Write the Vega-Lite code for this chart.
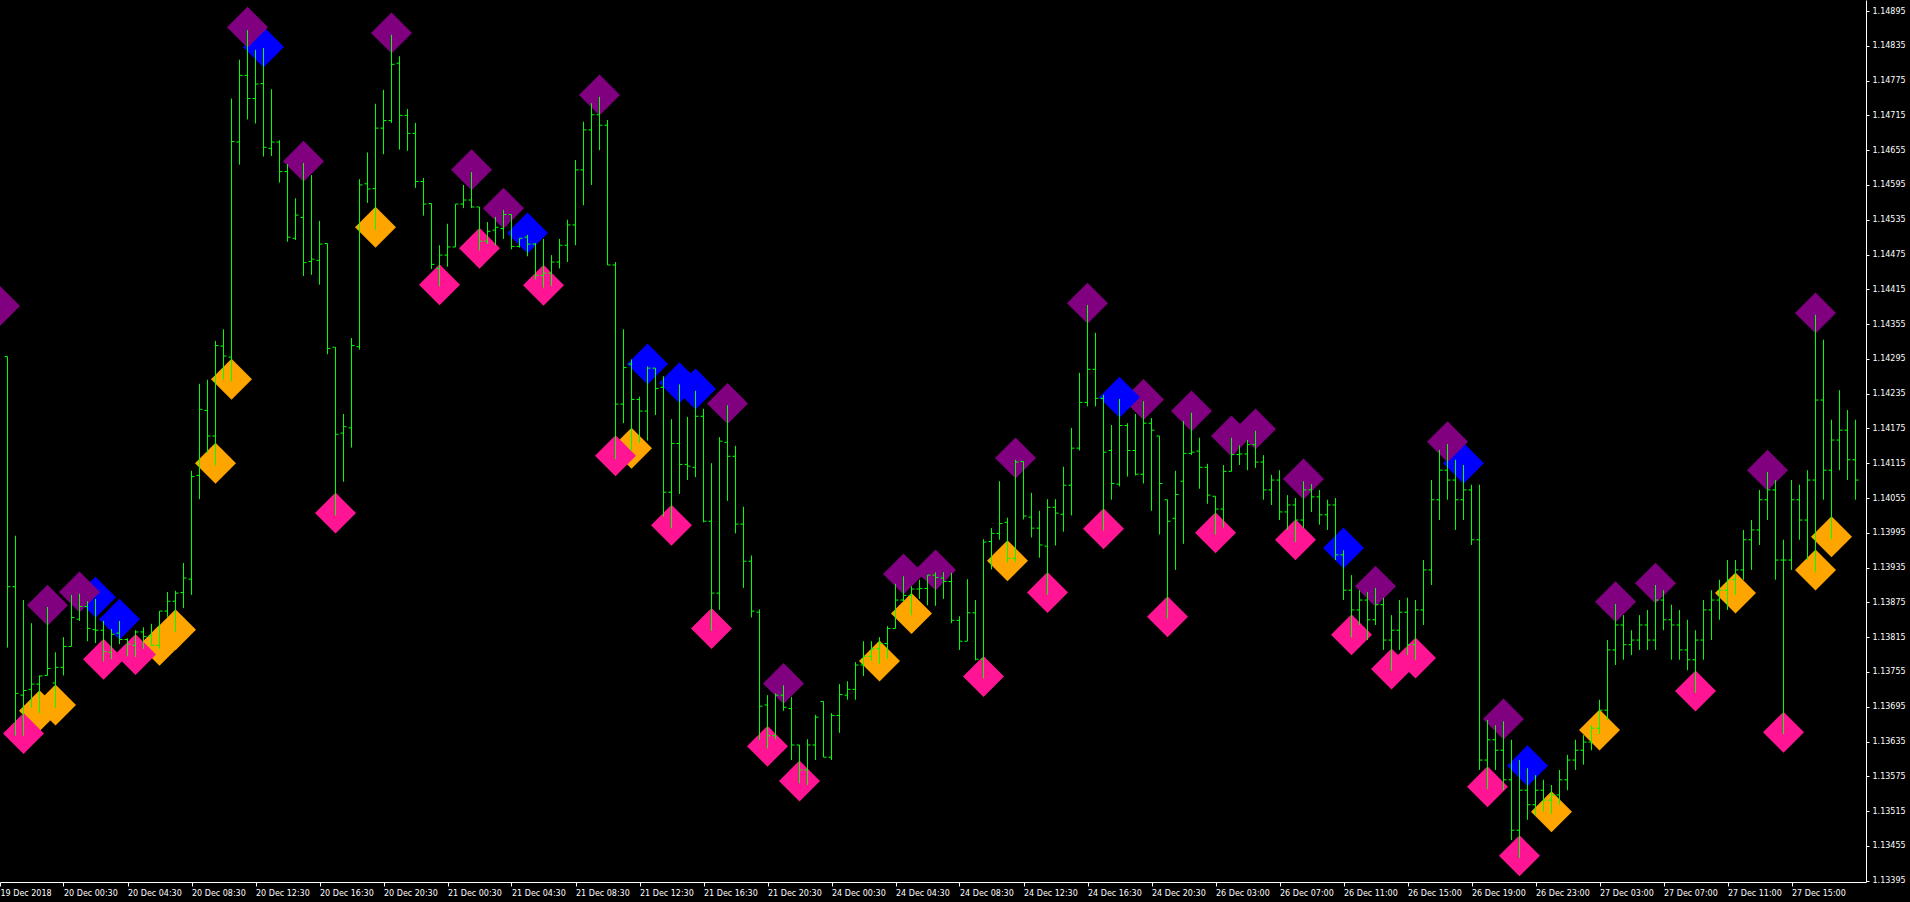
{
  "$schema": "https://vega.github.io/schema/vega-lite/v6.json",
  "width": 1866,
  "height": 882,
  "autosize": {"type": "none"},
  "padding": {"left": 0, "top": 0, "right": 44, "bottom": 20},
  "background": "#000000",
  "config": {"view": {"stroke": null}, "font": "DejaVu Sans"},
  "datasets": {
    "bars": [
      {"k":0,"o":1.14299,"h":1.14299,"l":1.13797,"c":1.13902},
      {"k":1,"o":1.13902,"h":1.13990,"l":1.13645,"c":1.13718},
      {"k":2,"o":1.13715,"h":1.13879,"l":1.13645,"c":1.13723},
      {"k":3,"o":1.13725,"h":1.13839,"l":1.13693,"c":1.13734},
      {"k":4,"o":1.13734,"h":1.13749,"l":1.13684,"c":1.13748},
      {"k":5,"o":1.13749,"h":1.13867,"l":1.13749,"c":1.13761},
      {"k":6,"o":1.13736,"h":1.13789,"l":1.13693,"c":1.13763},
      {"k":7,"o":1.13763,"h":1.13815,"l":1.13749,"c":1.13799},
      {"k":8,"o":1.13799,"h":1.13888,"l":1.13799,"c":1.13849},
      {"k":9,"o":1.13846,"h":1.13890,"l":1.13843,"c":1.13868},
      {"k":10,"o":1.13868,"h":1.13877,"l":1.13808,"c":1.13830},
      {"k":11,"o":1.13828,"h":1.13881,"l":1.13805,"c":1.13827},
      {"k":12,"o":1.13827,"h":1.13843,"l":1.13773,"c":1.13790},
      {"k":13,"o":1.13789,"h":1.13829,"l":1.13777,"c":1.13820},
      {"k":14,"o":1.13822,"h":1.13843,"l":1.13803,"c":1.13811},
      {"k":15,"o":1.13811,"h":1.13813,"l":1.13782,"c":1.13803},
      {"k":16,"o":1.13801,"h":1.13827,"l":1.13781,"c":1.13824},
      {"k":17,"o":1.13824,"h":1.13832,"l":1.13795,"c":1.13816},
      {"k":18,"o":1.13817,"h":1.13838,"l":1.13800,"c":1.13801},
      {"k":19,"o":1.13801,"h":1.13860,"l":1.13795,"c":1.13860},
      {"k":20,"o":1.13860,"h":1.13893,"l":1.13850,"c":1.13877},
      {"k":21,"o":1.13877,"h":1.13895,"l":1.13824,"c":1.13891},
      {"k":22,"o":1.13892,"h":1.13943,"l":1.13865,"c":1.13917},
      {"k":23,"o":1.13915,"h":1.14102,"l":1.13888,"c":1.14092},
      {"k":24,"o":1.14094,"h":1.14252,"l":1.14053,"c":1.14208},
      {"k":25,"o":1.14206,"h":1.14259,"l":1.14133,"c":1.14162},
      {"k":26,"o":1.14162,"h":1.14326,"l":1.14111,"c":1.14318},
      {"k":27,"o":1.14317,"h":1.14346,"l":1.14259,"c":1.14300},
      {"k":28,"o":1.14298,"h":1.14744,"l":1.14256,"c":1.14670},
      {"k":29,"o":1.14669,"h":1.14811,"l":1.14630,"c":1.14784},
      {"k":30,"o":1.14784,"h":1.14862,"l":1.14708,"c":1.14744},
      {"k":31,"o":1.14744,"h":1.14828,"l":1.14701,"c":1.14769},
      {"k":32,"o":1.14770,"h":1.14831,"l":1.14644,"c":1.14660},
      {"k":33,"o":1.14658,"h":1.14760,"l":1.14645,"c":1.14669},
      {"k":34,"o":1.14669,"h":1.14672,"l":1.14599,"c":1.14618},
      {"k":35,"o":1.14618,"h":1.14631,"l":1.14497,"c":1.14505},
      {"k":36,"o":1.14503,"h":1.14572,"l":1.14500,"c":1.14543},
      {"k":37,"o":1.14539,"h":1.14633,"l":1.14438,"c":1.14461},
      {"k":38,"o":1.14463,"h":1.14612,"l":1.14440,"c":1.14467},
      {"k":39,"o":1.14465,"h":1.14533,"l":1.14423,"c":1.14493},
      {"k":40,"o":1.14494,"h":1.14494,"l":1.14303,"c":1.14313},
      {"k":41,"o":1.14315,"h":1.14315,"l":1.14025,"c":1.14165},
      {"k":42,"o":1.14167,"h":1.14200,"l":1.14083,"c":1.14178},
      {"k":43,"o":1.14176,"h":1.14331,"l":1.14142,"c":1.14318},
      {"k":44,"o":1.14316,"h":1.14605,"l":1.14311,"c":1.14595},
      {"k":45,"o":1.14597,"h":1.14651,"l":1.14564,"c":1.14588},
      {"k":46,"o":1.14589,"h":1.14735,"l":1.14517,"c":1.14693},
      {"k":47,"o":1.14693,"h":1.14759,"l":1.14648,"c":1.14706},
      {"k":48,"o":1.14706,"h":1.14854,"l":1.14702,"c":1.14803},
      {"k":49,"o":1.14805,"h":1.14817,"l":1.14656,"c":1.14715},
      {"k":50,"o":1.14715,"h":1.14726,"l":1.14654,"c":1.14684},
      {"k":51,"o":1.14684,"h":1.14702,"l":1.14590,"c":1.14601},
      {"k":52,"o":1.14601,"h":1.14607,"l":1.14542,"c":1.14562},
      {"k":53,"o":1.14563,"h":1.14563,"l":1.14450,"c":1.14458},
      {"k":54,"o":1.14451,"h":1.14491,"l":1.14420,"c":1.14474},
      {"k":55,"o":1.14474,"h":1.14528,"l":1.14454,"c":1.14488},
      {"k":56,"o":1.14488,"h":1.14562,"l":1.14488,"c":1.14562},
      {"k":57,"o":1.14562,"h":1.14595,"l":1.14555,"c":1.14569},
      {"k":58,"o":1.14569,"h":1.14617,"l":1.14555,"c":1.14557},
      {"k":59,"o":1.14557,"h":1.14557,"l":1.14482,"c":1.14498},
      {"k":60,"o":1.14498,"h":1.14531,"l":1.14493,"c":1.14515},
      {"k":61,"o":1.14517,"h":1.14540,"l":1.14491,"c":1.14522},
      {"k":62,"o":1.14520,"h":1.14552,"l":1.14502,"c":1.14544},
      {"k":63,"o":1.14544,"h":1.14544,"l":1.14484,"c":1.14489},
      {"k":64,"o":1.14489,"h":1.14503,"l":1.14487,"c":1.14503},
      {"k":65,"o":1.14505,"h":1.14509,"l":1.14472,"c":1.14493},
      {"k":66,"o":1.14493,"h":1.14495,"l":1.14432,"c":1.14439},
      {"k":67,"o":1.14439,"h":1.14502,"l":1.14418,"c":1.14443},
      {"k":68,"o":1.14443,"h":1.14474,"l":1.14421,"c":1.14462},
      {"k":69,"o":1.14462,"h":1.14502,"l":1.14451,"c":1.14491},
      {"k":70,"o":1.14491,"h":1.14535,"l":1.14462,"c":1.14526},
      {"k":71,"o":1.14526,"h":1.14638,"l":1.14491,"c":1.14621},
      {"k":72,"o":1.14621,"h":1.14704,"l":1.14560,"c":1.14690},
      {"k":73,"o":1.14690,"h":1.14736,"l":1.14595,"c":1.14716},
      {"k":74,"o":1.14716,"h":1.14747,"l":1.14655,"c":1.14698},
      {"k":75,"o":1.14698,"h":1.14707,"l":1.14457,"c":1.14457},
      {"k":76,"o":1.14457,"h":1.14462,"l":1.14122,"c":1.14217},
      {"k":77,"o":1.14217,"h":1.14346,"l":1.14184,"c":1.14280},
      {"k":78,"o":1.14286,"h":1.14294,"l":1.14137,"c":1.14225},
      {"k":79,"o":1.14225,"h":1.14230,"l":1.14150,"c":1.14205},
      {"k":80,"o":1.14205,"h":1.14282,"l":1.14154,"c":1.14279},
      {"k":81,"o":1.14279,"h":1.14279,"l":1.14198,"c":1.14244},
      {"k":82,"o":1.14246,"h":1.14265,"l":1.14023,"c":1.14065},
      {"k":83,"o":1.14065,"h":1.14191,"l":1.14003,"c":1.14149},
      {"k":84,"o":1.14149,"h":1.14251,"l":1.14062,"c":1.14113},
      {"k":85,"o":1.14113,"h":1.14195,"l":1.14086,"c":1.14110},
      {"k":86,"o":1.14108,"h":1.14240,"l":1.14091,"c":1.14196},
      {"k":87,"o":1.14196,"h":1.14209,"l":1.14013,"c":1.14015},
      {"k":88,"o":1.14015,"h":1.14115,"l":1.13826,"c":1.13891},
      {"k":89,"o":1.13891,"h":1.14160,"l":1.13862,"c":1.14153},
      {"k":90,"o":1.14151,"h":1.14215,"l":1.14050,"c":1.14127},
      {"k":91,"o":1.14127,"h":1.14145,"l":1.13994,"c":1.14010},
      {"k":92,"o":1.14010,"h":1.14040,"l":1.13900,"c":1.13946},
      {"k":93,"o":1.13946,"h":1.13956,"l":1.13849,"c":1.13860},
      {"k":94,"o":1.13858,"h":1.13863,"l":1.13638,"c":1.13696},
      {"k":95,"o":1.13698,"h":1.13715,"l":1.13623,"c":1.13645},
      {"k":96,"o":1.13645,"h":1.13718,"l":1.13639,"c":1.13715},
      {"k":97,"o":1.13715,"h":1.13732,"l":1.13688,"c":1.13694},
      {"k":98,"o":1.13692,"h":1.13712,"l":1.13603,"c":1.13629},
      {"k":99,"o":1.13629,"h":1.13629,"l":1.13563,"c":1.13586},
      {"k":100,"o":1.13586,"h":1.13639,"l":1.13560,"c":1.13629},
      {"k":101,"o":1.13629,"h":1.13681,"l":1.13603,"c":1.13677},
      {"k":102,"o":1.13704,"h":1.13704,"l":1.13608,"c":1.13608},
      {"k":103,"o":1.13608,"h":1.13684,"l":1.13603,"c":1.13680},
      {"k":104,"o":1.13680,"h":1.13734,"l":1.13650,"c":1.13716},
      {"k":105,"o":1.13715,"h":1.13739,"l":1.13707,"c":1.13725},
      {"k":106,"o":1.13725,"h":1.13772,"l":1.13707,"c":1.13767},
      {"k":107,"o":1.13767,"h":1.13808,"l":1.13748,"c":1.13782},
      {"k":108,"o":1.13782,"h":1.13808,"l":1.13774,"c":1.13795},
      {"k":109,"o":1.13795,"h":1.13815,"l":1.13769,"c":1.13804},
      {"k":110,"o":1.13804,"h":1.13834,"l":1.13778,"c":1.13830},
      {"k":111,"o":1.13830,"h":1.13907,"l":1.13830,"c":1.13879},
      {"k":112,"o":1.13879,"h":1.13920,"l":1.13877,"c":1.13887},
      {"k":113,"o":1.13887,"h":1.13903,"l":1.13853,"c":1.13898},
      {"k":114,"o":1.13898,"h":1.13914,"l":1.13881,"c":1.13899},
      {"k":115,"o":1.13899,"h":1.13922,"l":1.13870,"c":1.13922},
      {"k":116,"o":1.13922,"h":1.13927,"l":1.13869,"c":1.13918},
      {"k":117,"o":1.13917,"h":1.13927,"l":1.13881,"c":1.13911},
      {"k":118,"o":1.13911,"h":1.13926,"l":1.13839,"c":1.13844},
      {"k":119,"o":1.13844,"h":1.13851,"l":1.13793,"c":1.13808},
      {"k":120,"o":1.13808,"h":1.13915,"l":1.13808,"c":1.13857},
      {"k":121,"o":1.13857,"h":1.13879,"l":1.13775,"c":1.13777},
      {"k":122,"o":1.13777,"h":1.13984,"l":1.13744,"c":1.13979},
      {"k":123,"o":1.13980,"h":1.14003,"l":1.13932,"c":1.13994},
      {"k":124,"o":1.13994,"h":1.14084,"l":1.13983,"c":1.14011},
      {"k":125,"o":1.14013,"h":1.14021,"l":1.13944,"c":1.13951},
      {"k":126,"o":1.13951,"h":1.14121,"l":1.13945,"c":1.14117},
      {"k":127,"o":1.14118,"h":1.14118,"l":1.14018,"c":1.14024},
      {"k":128,"o":1.14022,"h":1.14064,"l":1.13987,"c":1.14003},
      {"k":129,"o":1.14003,"h":1.14033,"l":1.13952,"c":1.13974},
      {"k":130,"o":1.13972,"h":1.14053,"l":1.13888,"c":1.14039},
      {"k":131,"o":1.14039,"h":1.14053,"l":1.13973,"c":1.14029},
      {"k":132,"o":1.14027,"h":1.14109,"l":1.13997,"c":1.14077},
      {"k":133,"o":1.14077,"h":1.14176,"l":1.14025,"c":1.14141},
      {"k":134,"o":1.14141,"h":1.14271,"l":1.14137,"c":1.14220},
      {"k":135,"o":1.14220,"h":1.14388,"l":1.14213,"c":1.14277},
      {"k":136,"o":1.14277,"h":1.14340,"l":1.14213,"c":1.14227},
      {"k":137,"o":1.14227,"h":1.14233,"l":1.13999,"c":1.14134},
      {"k":138,"o":1.14137,"h":1.14181,"l":1.14052,"c":1.14080},
      {"k":139,"o":1.14079,"h":1.14226,"l":1.14075,"c":1.14180},
      {"k":140,"o":1.14180,"h":1.14184,"l":1.14092,"c":1.14137},
      {"k":141,"o":1.14137,"h":1.14200,"l":1.14094,"c":1.14096},
      {"k":142,"o":1.14096,"h":1.14222,"l":1.14080,"c":1.14184},
      {"k":143,"o":1.14184,"h":1.14193,"l":1.14033,"c":1.14172},
      {"k":144,"o":1.14162,"h":1.14162,"l":1.13992,"c":1.14080},
      {"k":145,"o":1.14052,"h":1.14052,"l":1.13847,"c":1.14015},
      {"k":146,"o":1.14020,"h":1.14102,"l":1.13931,"c":1.14061},
      {"k":147,"o":1.14084,"h":1.14188,"l":1.13976,"c":1.14132},
      {"k":148,"o":1.14132,"h":1.14202,"l":1.14129,"c":1.14134},
      {"k":149,"o":1.14136,"h":1.14159,"l":1.14071,"c":1.14108},
      {"k":150,"o":1.14108,"h":1.14114,"l":1.14045,"c":1.14060},
      {"k":151,"o":1.14058,"h":1.14058,"l":1.13992,"c":1.14036},
      {"k":152,"o":1.14036,"h":1.14112,"l":1.14004,"c":1.14101},
      {"k":153,"o":1.14101,"h":1.14159,"l":1.14101,"c":1.14130},
      {"k":154,"o":1.14130,"h":1.14146,"l":1.14112,"c":1.14131},
      {"k":155,"o":1.14131,"h":1.14155,"l":1.14103,"c":1.14147},
      {"k":156,"o":1.14147,"h":1.14171,"l":1.14107,"c":1.14117},
      {"k":157,"o":1.14117,"h":1.14129,"l":1.14052,"c":1.14069},
      {"k":158,"o":1.14069,"h":1.14095,"l":1.14043,"c":1.14086},
      {"k":159,"o":1.14086,"h":1.14103,"l":1.14017,"c":1.14031},
      {"k":160,"o":1.14031,"h":1.14060,"l":1.14000,"c":1.14043},
      {"k":161,"o":1.14043,"h":1.14055,"l":1.13979,"c":1.14017},
      {"k":162,"o":1.14017,"h":1.14084,"l":1.14003,"c":1.14069},
      {"k":163,"o":1.14069,"h":1.14079,"l":1.14031,"c":1.14057},
      {"k":164,"o":1.14057,"h":1.14069,"l":1.14009,"c":1.14026},
      {"k":165,"o":1.14026,"h":1.14052,"l":1.14000,"c":1.14043},
      {"k":166,"o":1.14043,"h":1.14055,"l":1.13948,"c":1.13957},
      {"k":167,"o":1.13957,"h":1.13965,"l":1.13879,"c":1.13896},
      {"k":168,"o":1.13896,"h":1.13922,"l":1.13815,"c":1.13862},
      {"k":169,"o":1.13862,"h":1.13896,"l":1.13836,"c":1.13879},
      {"k":170,"o":1.13879,"h":1.13893,"l":1.13810,"c":1.13845},
      {"k":171,"o":1.13845,"h":1.13900,"l":1.13836,"c":1.13871},
      {"k":172,"o":1.13871,"h":1.13883,"l":1.13793,"c":1.13810},
      {"k":173,"o":1.13810,"h":1.13853,"l":1.13757,"c":1.13827},
      {"k":174,"o":1.13827,"h":1.13879,"l":1.13793,"c":1.13858},
      {"k":175,"o":1.13858,"h":1.13883,"l":1.13784,"c":1.13802},
      {"k":176,"o":1.13802,"h":1.13879,"l":1.13776,"c":1.13862},
      {"k":177,"o":1.13862,"h":1.13948,"l":1.13836,"c":1.13931},
      {"k":178,"o":1.13931,"h":1.14086,"l":1.13905,"c":1.14052},
      {"k":179,"o":1.14052,"h":1.14138,"l":1.14017,"c":1.14103},
      {"k":180,"o":1.14103,"h":1.14148,"l":1.14052,"c":1.14086},
      {"k":181,"o":1.14086,"h":1.14121,"l":1.14000,"c":1.14052},
      {"k":182,"o":1.14052,"h":1.14112,"l":1.14017,"c":1.14069},
      {"k":183,"o":1.14069,"h":1.14078,"l":1.13974,"c":1.13983},
      {"k":184,"o":1.13983,"h":1.14078,"l":1.13586,"c":1.13603},
      {"k":185,"o":1.13603,"h":1.13672,"l":1.13553,"c":1.13638},
      {"k":186,"o":1.13638,"h":1.13663,"l":1.13586,"c":1.13620},
      {"k":187,"o":1.13620,"h":1.13670,"l":1.13551,"c":1.13569},
      {"k":188,"o":1.13569,"h":1.13638,"l":1.13465,"c":1.13482},
      {"k":189,"o":1.13482,"h":1.13603,"l":1.13434,"c":1.13551},
      {"k":190,"o":1.13551,"h":1.13589,"l":1.13500,"c":1.13526},
      {"k":191,"o":1.13526,"h":1.13577,"l":1.13508,"c":1.13551},
      {"k":192,"o":1.13551,"h":1.13569,"l":1.13514,"c":1.13534},
      {"k":193,"o":1.13534,"h":1.13560,"l":1.13510,"c":1.13543},
      {"k":194,"o":1.13543,"h":1.13586,"l":1.13526,"c":1.13569},
      {"k":195,"o":1.13569,"h":1.13612,"l":1.13551,"c":1.13603},
      {"k":196,"o":1.13603,"h":1.13638,"l":1.13586,"c":1.13620},
      {"k":197,"o":1.13620,"h":1.13646,"l":1.13595,"c":1.13634},
      {"k":198,"o":1.13634,"h":1.13663,"l":1.13620,"c":1.13658},
      {"k":199,"o":1.13658,"h":1.13707,"l":1.13648,"c":1.13689},
      {"k":200,"o":1.13689,"h":1.13810,"l":1.13672,"c":1.13793},
      {"k":201,"o":1.13793,"h":1.13872,"l":1.13767,"c":1.13836},
      {"k":202,"o":1.13836,"h":1.13853,"l":1.13776,"c":1.13802},
      {"k":203,"o":1.13802,"h":1.13827,"l":1.13784,"c":1.13810},
      {"k":204,"o":1.13810,"h":1.13853,"l":1.13793,"c":1.13836},
      {"k":205,"o":1.13836,"h":1.13862,"l":1.13793,"c":1.13810},
      {"k":206,"o":1.13810,"h":1.13905,"l":1.13793,"c":1.13879},
      {"k":207,"o":1.13879,"h":1.13896,"l":1.13827,"c":1.13845},
      {"k":208,"o":1.13845,"h":1.13871,"l":1.13776,"c":1.13836},
      {"k":209,"o":1.13836,"h":1.13862,"l":1.13776,"c":1.13793},
      {"k":210,"o":1.13793,"h":1.13845,"l":1.13758,"c":1.13776},
      {"k":211,"o":1.13776,"h":1.13827,"l":1.13719,"c":1.13810},
      {"k":212,"o":1.13810,"h":1.13879,"l":1.13776,"c":1.13862},
      {"k":213,"o":1.13862,"h":1.13896,"l":1.13810,"c":1.13879},
      {"k":214,"o":1.13879,"h":1.13914,"l":1.13845,"c":1.13896},
      {"k":215,"o":1.13896,"h":1.13948,"l":1.13862,"c":1.13914},
      {"k":216,"o":1.13914,"h":1.13948,"l":1.13888,"c":1.13931},
      {"k":217,"o":1.13931,"h":1.14000,"l":1.13914,"c":1.13983},
      {"k":218,"o":1.13983,"h":1.14017,"l":1.13931,"c":1.14000},
      {"k":219,"o":1.14000,"h":1.14069,"l":1.13974,"c":1.14052},
      {"k":220,"o":1.14052,"h":1.14100,"l":1.14017,"c":1.14069},
      {"k":221,"o":1.14069,"h":1.14086,"l":1.13914,"c":1.13948},
      {"k":222,"o":1.13948,"h":1.13983,"l":1.13648,"c":1.13948},
      {"k":223,"o":1.13948,"h":1.14086,"l":1.13931,"c":1.14052},
      {"k":224,"o":1.14052,"h":1.14078,"l":1.13983,"c":1.14017},
      {"k":225,"o":1.14017,"h":1.14103,"l":1.13948,"c":1.14086},
      {"k":226,"o":1.14086,"h":1.14371,"l":1.13927,"c":1.14224},
      {"k":227,"o":1.14224,"h":1.14328,"l":1.14052,"c":1.14103},
      {"k":228,"o":1.14103,"h":1.14190,"l":1.13984,"c":1.14155},
      {"k":229,"o":1.14155,"h":1.14241,"l":1.14103,"c":1.14172},
      {"k":230,"o":1.14172,"h":1.14207,"l":1.14086,"c":1.14121},
      {"k":231,"o":1.14121,"h":1.14190,"l":1.14052,"c":1.14086}
    ],
    "signals": [
      {"k":228,"p":1.13988,"c":"orange"},
      {"k":226,"p":1.13931,"c":"orange"},
      {"k":226,"p":1.14374,"c":"purple"},
      {"k":222,"p":1.13651,"c":"pink"},
      {"k":220,"p":1.14103,"c":"purple"},
      {"k":216,"p":1.13891,"c":"orange"},
      {"k":211,"p":1.13722,"c":"pink"},
      {"k":206,"p":1.13908,"c":"purple"},
      {"k":201,"p":1.13876,"c":"purple"},
      {"k":199,"p":1.13655,"c":"orange"},
      {"k":193,"p":1.13514,"c":"orange"},
      {"k":190,"p":1.13593,"c":"blue"},
      {"k":189,"p":1.13438,"c":"pink"},
      {"k":187,"p":1.13674,"c":"purple"},
      {"k":185,"p":1.13557,"c":"pink"},
      {"k":182,"p":1.14115,"c":"blue"},
      {"k":180,"p":1.14152,"c":"purple"},
      {"k":176,"p":1.13779,"c":"pink"},
      {"k":173,"p":1.13760,"c":"pink"},
      {"k":171,"p":1.13903,"c":"purple"},
      {"k":168,"p":1.13819,"c":"pink"},
      {"k":167,"p":1.13969,"c":"blue"},
      {"k":162,"p":1.14088,"c":"purple"},
      {"k":161,"p":1.13983,"c":"pink"},
      {"k":156,"p":1.14174,"c":"purple"},
      {"k":153,"p":1.14162,"c":"purple"},
      {"k":151,"p":1.13995,"c":"pink"},
      {"k":148,"p":1.14205,"c":"purple"},
      {"k":145,"p":1.13850,"c":"pink"},
      {"k":142,"p":1.14225,"c":"purple"},
      {"k":139,"p":1.14229,"c":"blue"},
      {"k":137,"p":1.14002,"c":"pink"},
      {"k":135,"p":1.14391,"c":"purple"},
      {"k":130,"p":1.13892,"c":"pink"},
      {"k":126,"p":1.14124,"c":"purple"},
      {"k":125,"p":1.13947,"c":"orange"},
      {"k":122,"p":1.13747,"c":"pink"},
      {"k":116,"p":1.13931,"c":"purple"},
      {"k":113,"p":1.13856,"c":"orange"},
      {"k":112,"p":1.13924,"c":"purple"},
      {"k":109,"p":1.13774,"c":"orange"},
      {"k":99,"p":1.13567,"c":"pink"},
      {"k":97,"p":1.13735,"c":"purple"},
      {"k":95,"p":1.13627,"c":"pink"},
      {"k":90,"p":1.14218,"c":"purple"},
      {"k":88,"p":1.13830,"c":"pink"},
      {"k":86,"p":1.14243,"c":"blue"},
      {"k":84,"p":1.14254,"c":"blue"},
      {"k":83,"p":1.14008,"c":"pink"},
      {"k":80,"p":1.14286,"c":"blue"},
      {"k":78,"p":1.14141,"c":"orange"},
      {"k":76,"p":1.14128,"c":"pink"},
      {"k":74,"p":1.14750,"c":"purple"},
      {"k":67,"p":1.14422,"c":"pink"},
      {"k":65,"p":1.14512,"c":"blue"},
      {"k":62,"p":1.14555,"c":"purple"},
      {"k":59,"p":1.14486,"c":"pink"},
      {"k":58,"p":1.14621,"c":"purple"},
      {"k":54,"p":1.14423,"c":"pink"},
      {"k":48,"p":1.14857,"c":"purple"},
      {"k":46,"p":1.14522,"c":"orange"},
      {"k":41,"p":1.14029,"c":"pink"},
      {"k":37,"p":1.14636,"c":"purple"},
      {"k":32,"p":1.14833,"c":"blue"},
      {"k":30,"p":1.14867,"c":"purple"},
      {"k":28,"p":1.14260,"c":"orange"},
      {"k":26,"p":1.14115,"c":"orange"},
      {"k":21,"p":1.13828,"c":"orange"},
      {"k":19,"p":1.13801,"c":"orange"},
      {"k":16,"p":1.13785,"c":"pink"},
      {"k":14,"p":1.13846,"c":"blue"},
      {"k":12,"p":1.13777,"c":"pink"},
      {"k":11,"p":1.13884,"c":"blue"},
      {"k":9,"p":1.13893,"c":"purple"},
      {"k":6,"p":1.13698,"c":"orange"},
      {"k":5,"p":1.13870,"c":"purple"},
      {"k":4,"p":1.13688,"c":"orange"},
      {"k":2,"p":1.13649,"c":"pink"},
      {"k":-1,"p":1.14386,"c":"purple"}
    ]
  },
  "encoding": {
    "x": {
      "type": "quantitative",
      "scale": {"domain": [-0.9375, 232.3125], "nice": false, "zero": false},
      "axis": {
        "orient": "bottom",
        "title": null,
        "grid": false,
        "values": [-0.9375, 7, 15, 23, 31, 39, 47, 55, 63, 71, 79, 87, 95, 103, 111, 119, 127, 135, 143, 151, 159, 167, 175, 183, 191, 199, 207, 215, 223],
        "labelExpr": "datum.value < 0 ? '19 Dec 2018' : ['20 Dec 00:30','20 Dec 04:30','20 Dec 08:30','20 Dec 12:30','20 Dec 16:30','20 Dec 20:30','21 Dec 00:30','21 Dec 04:30','21 Dec 08:30','21 Dec 12:30','21 Dec 16:30','21 Dec 20:30','24 Dec 00:30','24 Dec 04:30','24 Dec 08:30','24 Dec 12:30','24 Dec 16:30','24 Dec 20:30','26 Dec 03:00','26 Dec 07:00','26 Dec 11:00','26 Dec 15:00','26 Dec 19:00','26 Dec 23:00','27 Dec 03:00','27 Dec 07:00','27 Dec 11:00','27 Dec 15:00'][round((datum.value - 7) / 8)]",
        "labelAlign": "left",
        "labelBaseline": "top",
        "labelPadding": 3,
        "labelFont": "DejaVu Sans",
        "labelFontSize": 8,
        "labelColor": "#FFFFFF",
        "labelOverlap": false,
        "labelFlush": false,
        "labelBound": false,
        "domainColor": "#FFFFFF",
        "tickColor": "#FFFFFF",
        "tickSize": 4
      }
    },
    "y": {
      "type": "quantitative",
      "scale": {"domain": [1.133927, 1.14914], "nice": false, "zero": false},
      "axis": {
        "orient": "right",
        "title": null,
        "grid": false,
        "values": [1.13395, 1.13455, 1.13515, 1.13575, 1.13635, 1.13695, 1.13755, 1.13815, 1.13875, 1.13935, 1.13995, 1.14055, 1.14115, 1.14175, 1.14235, 1.14295, 1.14355, 1.14415, 1.14475, 1.14535, 1.14595, 1.14655, 1.14715, 1.14775, 1.14835, 1.14895],
        "format": ".5f",
        "labelFont": "DejaVu Sans",
        "labelFontSize": 8,
        "labelColor": "#FFFFFF",
        "labelPadding": 3,
        "labelOverlap": false,
        "labelFlush": false,
        "labelBound": false,
        "domainColor": "#FFFFFF",
        "tickColor": "#FFFFFF",
        "tickSize": 3
      }
    }
  },
  "layer": [
    {
      "mark": {"type": "rule", "color": "#A0A0A0", "strokeWidth": 1},
      "encoding": {"y": {"datum": 1.14072}}
    },
    {
      "data": {"name": "signals"},
      "mark": {"type": "point", "shape": "diamond", "filled": true, "size": 1681, "opacity": 1, "strokeWidth": 0},
      "encoding": {
        "x": {"field": "k"},
        "y": {"field": "p"},
        "color": {
          "field": "c",
          "type": "nominal",
          "scale": {"domain": ["purple", "blue", "orange", "pink"], "range": ["#800080", "#0000FF", "#FFA500", "#FF1493"]},
          "legend": null
        }
      }
    },
    {
      "data": {"name": "bars"},
      "mark": {"type": "rule", "color": "#00FF00", "strokeWidth": 1},
      "encoding": {"x": {"field": "k"}, "y": {"field": "l"}, "y2": {"field": "h"}}
    },
    {
      "data": {"name": "bars"},
      "mark": {"type": "rule", "color": "#00FF00", "strokeWidth": 1, "xOffset": -3},
      "encoding": {"x": {"field": "k"}, "x2": {"field": "k"}, "y": {"field": "o"}}
    },
    {
      "data": {"name": "bars"},
      "mark": {"type": "rule", "color": "#00FF00", "strokeWidth": 1, "x2Offset": 3},
      "encoding": {"x": {"field": "k"}, "x2": {"field": "k"}, "y": {"field": "c"}}
    },
    {
      "mark": {"type": "rect", "color": "#FFFFFF", "clip": false},
      "encoding": {
        "x": {"datum": 232.5625},
        "x2": {"datum": 237.8125},
        "y": {"datum": 1.140844},
        "y2": {"datum": 1.140602}
      }
    },
    {
      "mark": {"type": "text", "color": "#000000", "font": "DejaVu Sans", "fontSize": 8, "align": "left", "baseline": "middle", "clip": false},
      "encoding": {
        "x": {"datum": 233.0625},
        "y": {"datum": 1.14072},
        "text": {"value": "1.14072"}
      }
    }
  ]
}
